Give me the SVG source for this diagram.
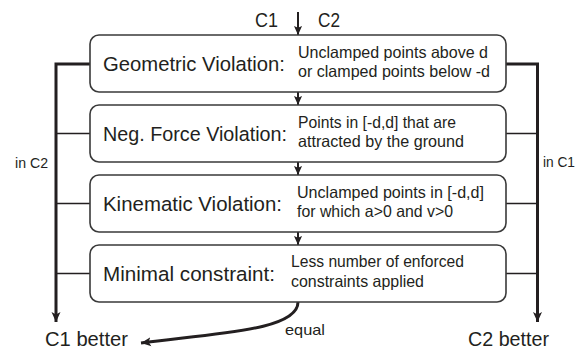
<svg xmlns="http://www.w3.org/2000/svg" width="576" height="350" viewBox="0 0 576 350">
<defs>
<marker id="ah" viewBox="0 0 10 10" refX="10" refY="5" markerWidth="10" markerHeight="10" markerUnits="userSpaceOnUse" orient="auto">
<path d="M0,0.5 L10,5 L0,9.5 L2.5,5 Z" fill="#231f20"/>
</marker>
<marker id="ahs" viewBox="0 0 10 10" refX="10" refY="5" markerWidth="9" markerHeight="9" markerUnits="userSpaceOnUse" orient="auto">
<path d="M0,0.5 L10,5 L0,9.5 L2,5 Z" fill="#231f20"/>
</marker>
</defs>
<style>
.box{fill:#fff;stroke:#3a3a3a;stroke-width:1.6}
.lbl{font-family:"Liberation Sans",Arial,sans-serif;font-size:20.5px;fill:#231f20}
.desc{font-family:"Liberation Sans",Arial,sans-serif;font-size:16.5px;fill:#231f20}
.sm{font-family:"Liberation Sans",Arial,sans-serif;font-size:14.5px;fill:#231f20}
.thick{fill:none;stroke:#231f20;stroke-width:3}
.thin{fill:none;stroke:#231f20;stroke-width:1.5}
.mid{fill:none;stroke:#231f20;stroke-width:2}
</style>
<g id="connectors">
<path class="mid" d="M298,12 V35" marker-end="url(#ahs)"/>
<path class="mid" d="M298,92 V105" marker-end="url(#ahs)"/>
<path class="mid" d="M298,162 V175" marker-end="url(#ahs)"/>
<path class="mid" d="M298,232 V245" marker-end="url(#ahs)"/>
<path class="thick" d="M90,64 H56 V322" marker-end="url(#ah)"/>
<path class="thin" d="M56,133.5 H90 M56,203.5 H90 M56,273.5 H90"/>
<path class="thick" d="M506,64 H537.5 V322" marker-end="url(#ah)"/>
<path class="thin" d="M506,133.5 H537.5 M506,203.5 H537.5 M506,273.5 H537.5"/>
<path class="thick" d="M298,302 C298,330 220,333 141,343" marker-end="url(#ah)"/>
</g>
<g id="labels">
<text class="lbl" x="255" y="27" textLength="23" lengthAdjust="spacingAndGlyphs">C1</text>
<text class="lbl" x="318" y="27" textLength="22" lengthAdjust="spacingAndGlyphs">C2</text>
<text class="sm" x="15" y="168" textLength="33" lengthAdjust="spacingAndGlyphs">in C2</text>
<text class="sm" x="543" y="167" textLength="32" lengthAdjust="spacingAndGlyphs">in C1</text>
<text class="sm" x="285" y="335" textLength="40" lengthAdjust="spacingAndGlyphs">equal</text>
</g>
<g id="c1better">
<text class="lbl" x="45" y="346" textLength="83" lengthAdjust="spacingAndGlyphs">C1 better</text>
</g>
<g id="c2better">
<text class="lbl" x="468" y="346" textLength="81" lengthAdjust="spacingAndGlyphs">C2 better</text>
</g>
<g id="geometric">
<rect class="box" x="90" y="35" width="416" height="57" rx="9"/>
<text class="lbl" x="103" y="71" textLength="182" lengthAdjust="spacingAndGlyphs">Geometric Violation:</text>
<text class="desc" x="298" y="58" textLength="190" lengthAdjust="spacingAndGlyphs">Unclamped points above d</text>
<text class="desc" x="298" y="77" textLength="192" lengthAdjust="spacingAndGlyphs">or clamped points below -d</text>
</g>
<g id="negforce">
<rect class="box" x="90" y="105" width="416" height="57" rx="9"/>
<text class="lbl" x="103" y="141" textLength="184" lengthAdjust="spacingAndGlyphs">Neg. Force Violation:</text>
<text class="desc" x="298" y="128" textLength="158" lengthAdjust="spacingAndGlyphs">Points in [-d,d] that are</text>
<text class="desc" x="298" y="147" textLength="166" lengthAdjust="spacingAndGlyphs">attracted by the ground</text>
</g>
<g id="kinematic">
<rect class="box" x="90" y="175" width="416" height="57" rx="9"/>
<text class="lbl" x="103" y="211" textLength="179" lengthAdjust="spacingAndGlyphs">Kinematic Violation:</text>
<text class="desc" x="297" y="198" textLength="187" lengthAdjust="spacingAndGlyphs">Unclamped points in [-d,d]</text>
<text class="desc" x="297" y="217" textLength="156" lengthAdjust="spacingAndGlyphs">for which a&gt;0 and v&gt;0</text>
</g>
<g id="minimal">
<rect class="box" x="90" y="245" width="416" height="57" rx="9"/>
<text class="lbl" x="103" y="281" textLength="172" lengthAdjust="spacingAndGlyphs">Minimal constraint:</text>
<text class="desc" x="291" y="267" textLength="173" lengthAdjust="spacingAndGlyphs">Less number of enforced</text>
<text class="desc" x="291" y="287" textLength="133" lengthAdjust="spacingAndGlyphs">constraints applied</text>
</g>
</svg>
